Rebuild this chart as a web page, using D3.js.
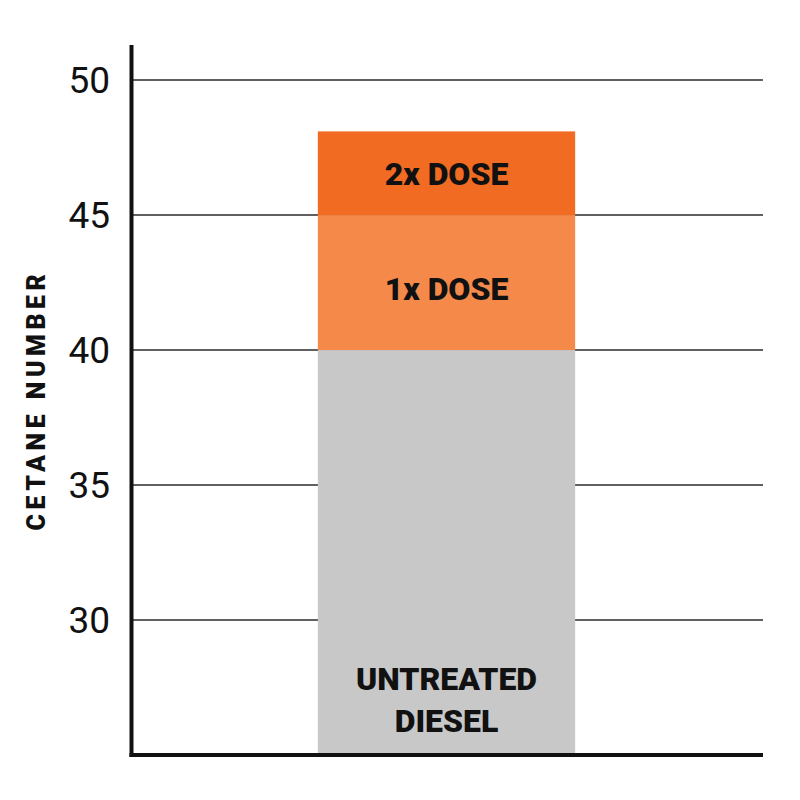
<!DOCTYPE html>
<html>
<head>
<meta charset="utf-8">
<script src="https://cdn.jsdelivr.net/npm/d3@7"></script>
<style>
  body { margin: 0; background: #fff; }
  svg text { font-family: Roboto, "DejaVu Sans", sans-serif; fill: #111; }
</style>
</head>
<body>
<svg width="800" height="800"></svg>
<script>
// data
var segLabels = ["UNTREATED DIESEL", "1x DOSE", "2x DOSE"];
var segFrom = [25, 40, 45];
var segTo = [40, 45, 48.1];
var segColors = ["#c8c8c8", "#f4894a", "#f26b22"];
var yTicks = [30, 35, 40, 45, 50];
var yTitle = "CETANE NUMBER";

var svg = d3.select("svg");
var mLeft = 130, mRight = 763, mTop = 45, mBottom = 755;

var y = d3.scaleLinear().domain([25, 51.3]).range([mBottom, mTop]);
var x = d3.scaleBand().domain(["diesel"]).range([mLeft, mRight]).paddingInner(0).paddingOuter(0.73);

// gridlines
svg.append("g")
	.selectAll("line")
	.data(yTicks)
	.enter().append("line")
		.attr("x1", mLeft).attr("x2", mRight)
		.attr("y1", function(d) { return y(d); })
		.attr("y2", function(d) { return y(d); })
		.attr("stroke", "#2b2b2b")
		.attr("stroke-width", 1.5);

// stacked bar
var segs = segLabels.map(function(l, i) {
	return { label: l, from: segFrom[i], to: segTo[i], color: segColors[i] };
});

svg.append("g")
	.selectAll("rect")
	.data(segs)
	.enter().append("rect")
		.attr("x", x("diesel"))
		.attr("width", x.bandwidth())
		.attr("y", function(d) { return y(d.to); })
		.attr("height", function(d) { return y(d.from) - y(d.to); })
		.attr("fill", function(d) { return d.color; });

var cx = x("diesel") + x.bandwidth() / 2;

// segment labels
svg.append("text").attr("x", cx).attr("y", y(46.55) + 12)
	.attr("text-anchor", "middle").attr("font-size", 32).attr("font-weight", 900)
	.text(segLabels[2]);
svg.append("text").attr("x", cx).attr("y", y(42.3) + 12)
	.attr("text-anchor", "middle").attr("font-size", 32).attr("font-weight", 900)
	.text(segLabels[1]);
var ut = svg.append("text").attr("x", cx).attr("y", 690)
	.attr("text-anchor", "middle").attr("font-size", 32).attr("font-weight", 900);
ut.append("tspan").attr("x", cx).text("UNTREATED");
ut.append("tspan").attr("x", cx).attr("dy", 42).text("DIESEL");

// y tick labels
svg.append("g")
	.selectAll("text")
	.data(yTicks)
	.enter().append("text")
		.attr("x", 110)
		.attr("y", function(d) { return y(d) + 13; })
		.attr("text-anchor", "end")
		.attr("font-size", 37)
		.attr("font-weight", 400)
		.text(function(d) { return d; });

// axis lines
svg.append("line").attr("x1", 131.5).attr("x2", 131.5).attr("y1", mTop).attr("y2", mBottom + 2)
	.attr("stroke", "#111").attr("stroke-width", 4);
svg.append("line").attr("x1", 129.5).attr("x2", mRight).attr("y1", mBottom).attr("y2", mBottom)
	.attr("stroke", "#111").attr("stroke-width", 4);

// y title
svg.append("text")
	.attr("transform", "translate(45,400) rotate(-90)")
	.attr("text-anchor", "middle")
	.attr("font-size", 25)
	.attr("font-weight", 900)
	.attr("letter-spacing", 4.5)
	.text(yTitle);
</script>
</body>
</html>
